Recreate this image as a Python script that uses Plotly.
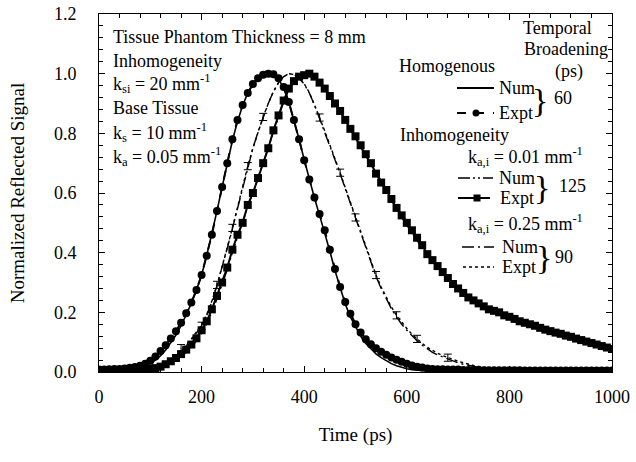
import plotly.graph_objects as go

# ---------------- data ----------------
time_ps = list(range(0, 1001, 10))

hom_expt = [0.008, 0.008, 0.009, 0.010, 0.010, 0.012, 0.014, 0.017, 0.021, 0.028,
            0.038, 0.052, 0.070, 0.090, 0.112, 0.137, 0.165, 0.197, 0.233, 0.275,
            0.325, 0.39, 0.46, 0.54, 0.62, 0.70, 0.78, 0.845, 0.895, 0.935,
            0.965, 0.985, 0.996, 1.0, 0.998, 0.985, 0.955, 0.905, 0.845, 0.78,
            0.71, 0.645, 0.585, 0.53, 0.475, 0.41, 0.345, 0.285, 0.235, 0.195,
            0.16, 0.132, 0.11, 0.093, 0.08, 0.068, 0.058, 0.049, 0.041, 0.034,
            0.028, 0.022, 0.018, 0.015, 0.012, 0.010, 0.009, 0.009, 0.008, 0.008,
            0.008, 0.007, 0.007, 0.007, 0.007, 0.006, 0.006, 0.006, 0.006, 0.006,
            0.006, 0.006, 0.006, 0.005, 0.005, 0.005, 0.005, 0.005, 0.005, 0.005,
            0.005, 0.005, 0.005, 0.005, 0.005, 0.005, 0.005, 0.005, 0.005, 0.005,
            0.005]

hom_num = [0.0, 0.0, 0.001, 0.002, 0.003, 0.005, 0.007, 0.010, 0.014, 0.020,
           0.028, 0.040, 0.055, 0.074, 0.097, 0.124, 0.155, 0.19, 0.23, 0.275,
           0.325, 0.39, 0.46, 0.54, 0.62, 0.70, 0.775, 0.84, 0.893, 0.935,
           0.966, 0.986, 0.997, 1.0, 0.996, 0.982, 0.952, 0.905, 0.845, 0.78,
           0.712, 0.645, 0.583, 0.525, 0.468, 0.405, 0.34, 0.28, 0.228, 0.185,
           0.15, 0.12, 0.096, 0.077, 0.061, 0.048, 0.037, 0.028, 0.021, 0.015,
           0.011, 0.008, 0.006, 0.004, 0.003, 0.002, 0.002, 0.001, 0.001, 0.001,
           0.001, 0.001, 0.001, 0.0, 0.0, 0.0, 0.0, 0.0, 0.0, 0.0,
           0.0, 0.0, 0.0, 0.0, 0.0, 0.0, 0.0, 0.0, 0.0, 0.0,
           0.0, 0.0, 0.0, 0.0, 0.0, 0.0, 0.0, 0.0, 0.0, 0.0,
           0.0]

ka001_expt = [0.005, 0.005, 0.005, 0.005, 0.005, 0.006, 0.006, 0.007, 0.008, 0.009,
              0.011, 0.013, 0.018, 0.026, 0.036, 0.047, 0.060, 0.075, 0.092, 0.113,
              0.14, 0.17, 0.21, 0.255, 0.30, 0.35, 0.41, 0.46, 0.50, 0.56,
              0.60, 0.65, 0.70, 0.75, 0.81, 0.86, 0.91, 0.95, 0.975, 0.99,
              0.995, 1.0, 0.99, 0.97, 0.95, 0.925, 0.90, 0.875, 0.845, 0.815,
              0.79, 0.76, 0.73, 0.70, 0.665, 0.635, 0.61, 0.58, 0.55, 0.525,
              0.50, 0.475, 0.45, 0.425, 0.395, 0.375, 0.355, 0.335, 0.315, 0.295,
              0.28, 0.265, 0.25, 0.24, 0.23, 0.22, 0.21, 0.205, 0.20, 0.19,
              0.185, 0.178, 0.17, 0.165, 0.16, 0.155, 0.148, 0.142, 0.137, 0.132,
              0.128, 0.122, 0.118, 0.112, 0.107, 0.102, 0.097, 0.092, 0.087, 0.082,
              0.077]

ka001_num = [0.0, 0.0, 0.001, 0.001, 0.002, 0.002, 0.003, 0.004, 0.005, 0.007,
             0.009, 0.012, 0.016, 0.022, 0.030, 0.040, 0.052, 0.066, 0.083, 0.104,
             0.13, 0.162, 0.20, 0.245, 0.292, 0.343, 0.40, 0.452, 0.50, 0.555,
             0.60, 0.65, 0.70, 0.75, 0.805, 0.855, 0.905, 0.945, 0.972, 0.988,
             0.996, 1.0, 0.993, 0.975, 0.952, 0.927, 0.90, 0.873, 0.843, 0.813,
             0.786, 0.756, 0.726, 0.695, 0.662, 0.632, 0.605, 0.575, 0.545, 0.518,
             0.492, 0.466, 0.442, 0.418, 0.39, 0.37, 0.35, 0.33, 0.31, 0.292,
             0.276, 0.261, 0.247, 0.236, 0.225, 0.215, 0.206, 0.199, 0.193, 0.186,
             0.18, 0.173, 0.166, 0.16, 0.155, 0.15, 0.144, 0.139, 0.134, 0.129,
             0.124, 0.119, 0.114, 0.109, 0.104, 0.099, 0.094, 0.09, 0.085, 0.08,
             0.076]

ka025_num = [0.0, 0.0, 0.0, 0.001, 0.001, 0.002, 0.003, 0.004, 0.006, 0.008,
             0.011, 0.015, 0.021, 0.029, 0.039, 0.052, 0.068, 0.087, 0.108, 0.13,
             0.155, 0.19, 0.235, 0.29, 0.35, 0.415, 0.48, 0.55, 0.62, 0.69,
             0.75, 0.805, 0.855, 0.90, 0.94, 0.97, 0.99, 1.0, 0.997, 0.985,
             0.965, 0.935, 0.895, 0.85, 0.805, 0.76, 0.715, 0.665, 0.615, 0.565,
             0.515, 0.465, 0.415, 0.365, 0.32, 0.28, 0.245, 0.212, 0.185, 0.16,
             0.14, 0.121, 0.105, 0.09, 0.077, 0.066, 0.057, 0.05, 0.043, 0.037,
             0.031, 0.026, 0.022, 0.018, 0.015, 0.012, 0.010, 0.008, 0.007, 0.006,
             0.005, 0.005, 0.005, 0.004, 0.004, 0.004, 0.004, 0.003, 0.003, 0.003,
             0.003, 0.003, 0.003, 0.003, 0.003, 0.003, 0.003, 0.003, 0.003, 0.003,
             0.003]

ka025_expt = [0.005, 0.005, 0.005, 0.006, 0.006, 0.007, 0.008, 0.009, 0.011, 0.013,
              0.016, 0.020, 0.026, 0.034, 0.044, 0.057, 0.073, 0.091, 0.111, 0.133,
              0.158, 0.193, 0.238, 0.292, 0.352, 0.417, 0.483, 0.553, 0.622, 0.69,
              0.75, 0.805, 0.855, 0.90, 0.94, 0.97, 0.99, 1.0, 0.997, 0.985,
              0.966, 0.937, 0.898, 0.853, 0.808, 0.763, 0.718, 0.668, 0.618, 0.568,
              0.518, 0.468, 0.418, 0.37, 0.325, 0.285, 0.25, 0.218, 0.19, 0.166,
              0.146, 0.127, 0.111, 0.096, 0.083, 0.072, 0.063, 0.055, 0.048, 0.042,
              0.036, 0.031, 0.026, 0.022, 0.019, 0.016, 0.013, 0.011, 0.010, 0.009,
              0.008, 0.008, 0.007, 0.007, 0.007, 0.006, 0.006, 0.006, 0.006, 0.006,
              0.006, 0.006, 0.006, 0.006, 0.006, 0.006, 0.006, 0.006, 0.006, 0.006,
              0.006]

err_time = [160, 200, 230, 260, 290, 320, 430, 470, 500, 540, 580, 620, 680]
err_value = [0.08, 0.155, 0.292, 0.483, 0.69, 0.855, 0.853, 0.668, 0.518, 0.325, 0.19, 0.111, 0.048]
err_size = [0.012] * len(err_time)

x_ticks = [0, 200, 400, 600, 800, 1000]
y_ticks = [0.0, 0.2, 0.4, 0.6, 0.8, 1.0, 1.2]

# ---------------- figure ----------------
FONT = "Liberation Serif"
fig = go.Figure()

fig.add_trace(go.Scatter(x=time_ps, y=ka025_num, mode="lines",
                         line=dict(color="black", width=1.4, dash="12px,4px,2px,4px")))
fig.add_trace(go.Scatter(x=time_ps, y=ka025_expt, mode="lines",
                         line=dict(color="black", width=1.4, dash="dot")))
fig.add_trace(go.Scatter(x=err_time, y=err_value, mode="markers",
                         marker=dict(size=1, color="black"),
                         error_y=dict(type="data", array=err_size, color="black",
                                      thickness=1, width=4)))
fig.add_trace(go.Scatter(x=time_ps, y=ka001_num, mode="lines",
                         line=dict(color="black", width=1.4, dash="12px,3px,2px,3px,2px,3px")))
fig.add_trace(go.Scatter(x=time_ps, y=ka001_expt, mode="lines+markers",
                         line=dict(color="black", width=2),
                         marker=dict(symbol="square", size=8, color="black")))
fig.add_trace(go.Scatter(x=time_ps, y=hom_num, mode="lines",
                         line=dict(color="black", width=1.6)))
fig.add_trace(go.Scatter(x=time_ps, y=hom_expt, mode="lines+markers",
                         line=dict(color="black", width=2, dash="dash"),
                         marker=dict(symbol="circle", size=8, color="black")))


def px(x):
    return (x - 99) / 513.0


def py(y):
    return (372 - y) / 358.0


annotations = []


def txt(text, x, y, anchor="left", size=18):
    annotations.append(dict(text=text, x=px(x), y=py(y), xref="paper", yref="paper",
                            xanchor=anchor, yanchor="middle", showarrow=False,
                            font=dict(family=FONT, size=size, color="black")))


# left block
txt("Tissue Phantom Thickness = 8 mm", 111, 37)
txt("Inhomogeneity", 111, 61)
txt("k<sub>si</sub> = 20 mm<sup>-1</sup>", 111, 84)
txt("Base Tissue", 111, 108)
txt("k<sub>s</sub> = 10 mm<sup>-1</sup>", 111, 132)
txt("k<sub>a</sub> = 0.05 mm<sup>-1</sup>", 111, 156)

# right legend block
txt("Temporal", 557, 28, "center")
txt("Broadening", 566, 49, "center")
txt("(ps)", 569, 71, "center")
txt("Homogenous", 397, 66)
txt("Num", 497, 88)
txt("Expt", 497, 113)
txt("}", 540, 100, "center", 34)
txt("60", 563, 98, "center")
txt("Inhomogeneity", 398, 135)
txt("k<sub>a,i</sub> = 0.01 mm<sup>-1</sup>", 466, 156)
txt("Num", 497, 178)
txt("Expt", 498, 198)
txt("}", 542, 187, "center", 34)
txt("125", 572, 186, "center")
txt("k<sub>a,i</sub> = 0.25 mm<sup>-1</sup>", 466, 223)
txt("Num", 500, 247)
txt("Expt", 500, 267)
txt("}", 544, 257, "center", 34)
txt("90", 564, 257, "center")

shapes = []


def hline(x0, x1, y, dash="solid", width=1.6):
    shapes.append(dict(type="line", xref="paper", yref="paper",
                       x0=px(x0), x1=px(x1), y0=py(y), y1=py(y),
                       line=dict(color="black", width=width, dash=dash)))


hline(457, 494, 88, "solid", 1.8)
hline(457, 494, 113, "dash", 2)
shapes.append(dict(type="circle", xref="paper", yref="paper",
                   x0=px(472.5), x1=px(479.5), y0=py(109.5), y1=py(116.5),
                   fillcolor="black", line=dict(color="black", width=0)))
hline(458, 493, 178, "12px,3px,2px,3px,2px,3px", 1.4)
hline(458, 490, 198, "solid", 2)
shapes.append(dict(type="rect", xref="paper", yref="paper",
                   x0=px(473.5), x1=px(480.5), y0=py(194.5), y1=py(201.5),
                   fillcolor="black", line=dict(color="black", width=0)))
hline(462, 494, 247, "12px,4px,2px,4px", 1.4)
hline(463, 494, 267, "dot", 1.4)

axis_common = dict(showline=True, linecolor="black", linewidth=1, mirror="ticks",
                   ticks="inside", ticklen=6, tickcolor="black", showgrid=False,
                   zeroline=False, automargin=False,
                   tickfont=dict(family=FONT, size=18, color="black"))

fig.update_layout(
    width=636, height=462,
    margin=dict(l=99, r=24, t=14, b=90),
    paper_bgcolor="white", plot_bgcolor="white",
    showlegend=False,
    hovermode=False,
    annotations=annotations,
    shapes=shapes,
    xaxis=dict(range=[0, 1000], tickvals=x_ticks, ticklabelstandoff=8,
               minor=dict(dtick=40, tick0=0, ticks="inside", ticklen=4, tickcolor="black"),
               title=dict(text="Time (ps)", standoff=22,
                          font=dict(family=FONT, size=19, color="black")),
               **axis_common),
    yaxis=dict(range=[0, 1.2], tickvals=y_ticks, tickformat=".1f", ticklabelstandoff=18,
               minor=dict(dtick=0.04, tick0=0, ticks="inside", ticklen=4, tickcolor="black"),
               title=dict(text="Normalized Reflected Signal", standoff=24,
                          font=dict(family=FONT, size=19, color="black")),
               **axis_common),
)

fig.write_html("out.html", config={"displayModeBar": False},
               post_script="document.body.style.margin='0';document.body.style.overflow='hidden';")
